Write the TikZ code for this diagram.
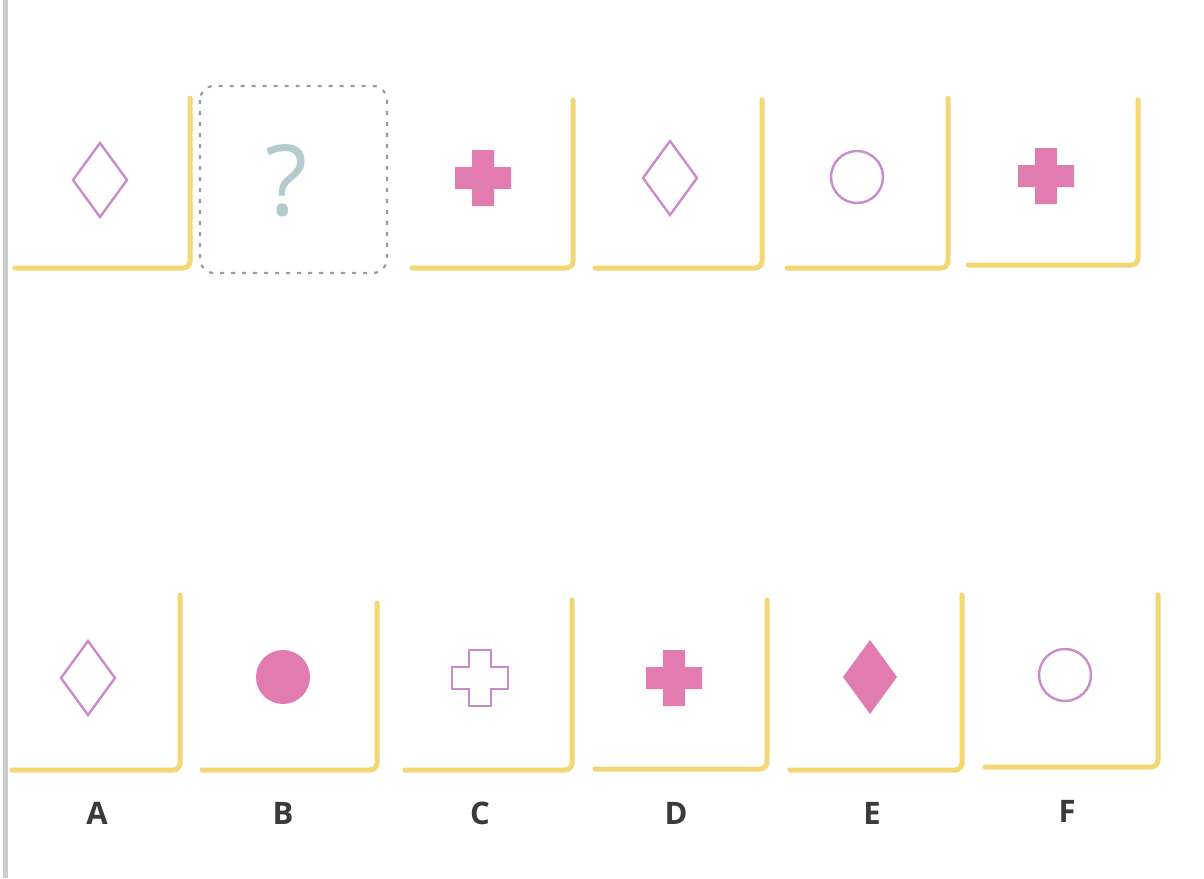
\documentclass[tikz,border=0pt]{standalone}
\usepackage{fontspec}
\setmainfont{Open Sans}
\definecolor{cornerY}{HTML}{F2D774}
\definecolor{outlC}{HTML}{C98CCB}
\definecolor{fillC}{HTML}{E17BB0}
\definecolor{qmC}{HTML}{B4CACF}
\definecolor{dashC}{HTML}{9A9A9A}
\definecolor{labC}{HTML}{3A3A3A}
\begin{document}
\begin{tikzpicture}[x=1pt,y=-1pt,
  corner/.style={draw=cornerY, line width=5pt, rounded corners=7pt, line cap=round},
  outl/.style={draw=outlC, line width=2.4pt},
  filld/.style={fill=fillC},
  lab/.style={text=labC, font=\bfseries\fontsize{31}{31}\selectfont, inner sep=0pt},
  crossp/.pic={\path[pic actions] (-11,-28) -- (11,-28) -- (11,-11) -- (28,-11) -- (28,11) -- (11,11) -- (11,28) -- (-11,28) -- (-11,11) -- (-28,11) -- (-28,-11) -- (-11,-11) -- cycle;},
  diam/.pic={\path[pic actions] (0,-37) -- (27,0) -- (0,37) -- (-27,0) -- cycle;}
]
\useasboundingbox[fill=white] (0,0) rectangle (1204,878);
\fill[gray!40] (3,0) rectangle (8,878);
% top row frames
\draw[corner] (15,268) -- (190,268) -- (190,98);
\draw[draw=dashC, line width=2.2pt, dash pattern=on 4pt off 7pt, rounded corners=14pt] (200,86) rectangle (387,273);
\draw[corner] (412,268) -- (573,268) -- (573,100);
\draw[corner] (595,268) -- (762,268) -- (762,100);
\draw[corner] (787,268) -- (948,268) -- (948,98);
\draw[corner] (968,265) -- (1138,265) -- (1138,100);
% top row shapes
\pic[outl] at (100,180) {diam};
\node[text=qmC, font=\fontsize{98}{98}\selectfont, inner sep=0pt] (qm) at (287,181) {?};
\pic[filld] at (483,178) {crossp};
\pic[outl] at (670,178) {diam};
\draw[outl] (857,177) circle (26);
\pic[filld] at (1046,176) {crossp};
% bottom row frames
\draw[corner] (12,770) -- (180,770) -- (180,595);
\draw[corner] (202,770) -- (377,770) -- (377,603);
\draw[corner] (405,770) -- (572,770) -- (572,600);
\draw[corner] (595,769) -- (767,769) -- (767,600);
\draw[corner] (790,770) -- (962,770) -- (962,595);
\draw[corner] (985,767) -- (1158,767) -- (1158,595);
% bottom row shapes
\pic[outl] at (88,678) {diam};
\fill[fillC] (283,677) circle (27);
\pic[draw=outlC, line width=2.2pt] at (480,678) {crossp};
\pic[filld] at (674,678) {crossp};
\pic[filld] at (870,677) {diam};
\draw[outl] (1065,675) circle (26);
% labels
\node[lab] (la) at (97,813) {A};
\node[lab] (lb) at (283,813) {B};
\node[lab] (lc) at (480,813) {C};
\node[lab] (ld) at (676,813) {D};
\node[lab] (le) at (872,813) {E};
\node[lab] (lf) at (1067,811) {F};
\end{tikzpicture}
\end{document}
